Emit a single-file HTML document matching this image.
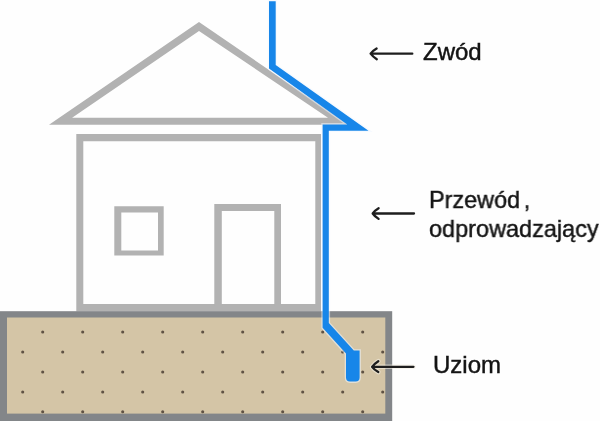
<!DOCTYPE html>
<html><head><meta charset="utf-8">
<style>
html,body{margin:0;padding:0;background:#fefefe;}
body{width:600px;height:421px;overflow:hidden;position:relative;}
svg{position:absolute;left:0;top:0;}
.t{position:absolute;will-change:transform;-webkit-text-stroke:0.45px #141414;font-family:"Liberation Sans",sans-serif;color:#141414;white-space:nowrap;line-height:1;}
</style></head><body>
<svg width="600" height="421" viewBox="0 0 600 421">
  <!-- roof -->
  <path fill="#b2b2b2" fill-rule="evenodd" d="M49,124.8 L199,22 L349,124.8 Z M72.1,117.8 L328,117.8 L199,30.9 Z"/>
  <!-- wall -->
  <path fill="#b2b2b2" fill-rule="evenodd" d="M76.3,134 H321 V311.5 H76.3 Z M83.3,141.3 V304 H315.3 V141.3 Z"/>
  <!-- window -->
  <path fill="#b2b2b2" fill-rule="evenodd" d="M114.3,206.2 H163.7 V255.6 H114.3 Z M121.3,212.4 V250.4 H158 V212.4 Z"/>
  <!-- door -->
  <path fill="#b2b2b2" fill-rule="evenodd" d="M214.3,204 H281 V306 H214.3 Z M221.8,211 V306 H274.3 V211 Z"/>
  <!-- ground -->
  <rect x="0" y="311.2" width="392.2" height="110" fill="#838689"/>
  <rect x="7" y="317.5" width="378.3" height="96.1" fill="#d4c5a6"/>
  <g fill="#5f5244">
    <circle cx="42.7" cy="332" r="1.55"/><circle cx="82.7" cy="332" r="1.55"/><circle cx="122.7" cy="332" r="1.55"/><circle cx="162.7" cy="332" r="1.55"/><circle cx="202.7" cy="332" r="1.55"/><circle cx="242.7" cy="332" r="1.55"/><circle cx="282.7" cy="332" r="1.55"/><circle cx="322.7" cy="332" r="1.55"/><circle cx="362.7" cy="332" r="1.55"/>
    <circle cx="22.7" cy="352" r="1.55"/><circle cx="62.7" cy="352" r="1.55"/><circle cx="102.7" cy="352" r="1.55"/><circle cx="142.7" cy="352" r="1.55"/><circle cx="182.7" cy="352" r="1.55"/><circle cx="222.7" cy="352" r="1.55"/><circle cx="262.7" cy="352" r="1.55"/><circle cx="302.7" cy="352" r="1.55"/><circle cx="342.7" cy="352" r="1.55"/><circle cx="382.7" cy="352" r="1.55"/>
    <circle cx="42.7" cy="372" r="1.55"/><circle cx="82.7" cy="372" r="1.55"/><circle cx="122.7" cy="372" r="1.55"/><circle cx="162.7" cy="372" r="1.55"/><circle cx="202.7" cy="372" r="1.55"/><circle cx="242.7" cy="372" r="1.55"/><circle cx="282.7" cy="372" r="1.55"/><circle cx="322.7" cy="372" r="1.55"/><circle cx="362.7" cy="372" r="1.55"/>
    <circle cx="22.7" cy="392" r="1.55"/><circle cx="62.7" cy="392" r="1.55"/><circle cx="102.7" cy="392" r="1.55"/><circle cx="142.7" cy="392" r="1.55"/><circle cx="182.7" cy="392" r="1.55"/><circle cx="222.7" cy="392" r="1.55"/><circle cx="262.7" cy="392" r="1.55"/><circle cx="302.7" cy="392" r="1.55"/><circle cx="342.7" cy="392" r="1.55"/><circle cx="382.7" cy="392" r="1.55"/>
    <circle cx="42.7" cy="411.8" r="1.55"/><circle cx="82.7" cy="411.8" r="1.55"/><circle cx="122.7" cy="411.8" r="1.55"/><circle cx="162.7" cy="411.8" r="1.55"/><circle cx="202.7" cy="411.8" r="1.55"/><circle cx="242.7" cy="411.8" r="1.55"/><circle cx="282.7" cy="411.8" r="1.55"/><circle cx="322.7" cy="411.8" r="1.55"/><circle cx="362.7" cy="411.8" r="1.55"/>
  </g>
  <!-- blue conductor -->
  <path fill="none" stroke="#eef6ff" stroke-opacity="0.55" stroke-width="2.6" stroke-linejoin="miter" d="M269,1.2 H275.7 V65 L368.5,130.8 H328.8 V323 L353.8,350.6 H359.6 V377.6 Q359.6,381.6 355.6,381.6 H350 Q346,381.6 346,377.6 V353.5 L322.6,327.8 V124.4 H347.3 L269,68.5 Z"/>
  <path fill="#1786e9" d="M269,1.2 H275.7 V65 L368.5,130.8 H328.8 V323 L353.8,350.6 H359.6 V377.6 Q359.6,381.6 355.6,381.6 H350 Q346,381.6 346,377.6 V353.5 L322.6,327.8 V124.4 H347.3 L269,68.5 Z"/>
  <!-- arrows -->
  <path fill="none" stroke="#f4efe2" stroke-opacity="0.6" stroke-width="4.6" stroke-linecap="round" stroke-linejoin="round" d="M372.5,366.8 H413.5 M378.3,361.2 Q374.1,363.9 372.1,366.8 Q374.1,369.6 378.3,372"/>
  <g fill="none" stroke="#1e1e1e" stroke-width="2.3" stroke-linecap="round" stroke-linejoin="round">
    <path d="M371,53.7 H412.3 M376.6,48.5 Q372.6,50.8 370.6,53.7 Q372.6,56.5 376.8,59.2"/>
    <path d="M373,213.5 H414 M378.6,208.2 Q374.6,210.6 372.7,213.5 Q374.6,216.3 378.6,218.9"/>
    <path d="M372.5,366.8 H413.5 M378.3,361.2 Q374.1,363.9 372.1,366.8 Q374.1,369.6 378.3,372"/>
  </g>
</svg>
<div class="t" style="left:423.4px;top:40px;font-size:24px;">Zwód</div>
<div class="t" style="left:428.6px;top:188px;font-size:24px;transform-origin:0 0;transform:scaleX(0.976);word-spacing:-3px;">Przewód ,</div>
<div class="t" style="left:429.2px;top:216.5px;font-size:24px;transform-origin:0 0;transform:scaleX(0.978);">odprowadzający</div>
<div class="t" style="left:433.2px;top:353px;font-size:24px;">Uziom</div>
</body></html>
